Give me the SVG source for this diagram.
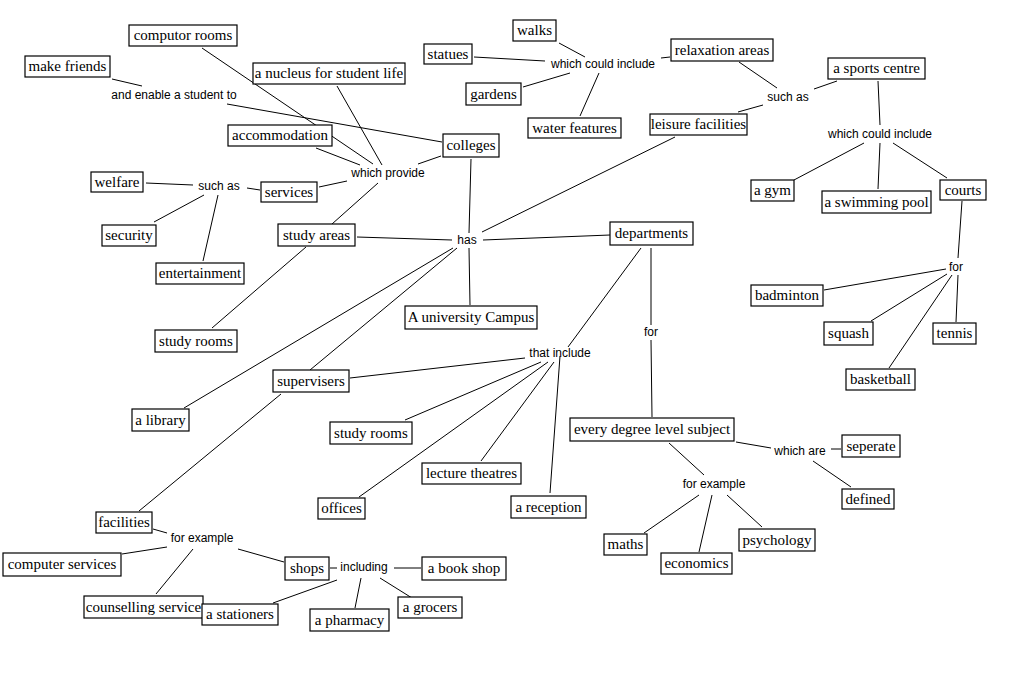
<svg xmlns="http://www.w3.org/2000/svg" width="1026" height="673" viewBox="0 0 1026 673">
<style>
.bg{fill:#fff}
.n rect{fill:#fff;stroke:#000;stroke-width:1.2}
.n text{font-family:"Liberation Serif","Times New Roman",serif;font-size:15px;fill:#000;text-anchor:middle}
.l text{font-family:"Liberation Sans",Arial,sans-serif;font-size:12px;fill:#000;text-anchor:middle}
#connectors line{stroke:#000;stroke-width:1}
</style>
<rect class="bg" x="0" y="0" width="1026" height="673"/>
<g id="connectors">
<line x1="202" y1="48" x2="373" y2="164"/>
<line x1="316" y1="148" x2="360" y2="165"/>
<line x1="337" y1="86" x2="382" y2="165"/>
<line x1="227" y1="104" x2="442" y2="142"/>
<line x1="112" y1="79" x2="142" y2="86"/>
<line x1="418" y1="164" x2="441" y2="156"/>
<line x1="319" y1="187" x2="347" y2="181"/>
<line x1="378" y1="183" x2="332" y2="224"/>
<line x1="146" y1="183" x2="193" y2="185"/>
<line x1="247" y1="188" x2="260" y2="190"/>
<line x1="204" y1="195" x2="154" y2="222"/>
<line x1="218" y1="195" x2="203" y2="261"/>
<line x1="306" y1="247" x2="212" y2="328"/>
<line x1="357" y1="237" x2="452" y2="240"/>
<line x1="483" y1="240" x2="610" y2="235"/>
<line x1="469" y1="233" x2="471" y2="159"/>
<line x1="482" y1="232" x2="675" y2="137"/>
<line x1="469" y1="248" x2="470" y2="305"/>
<line x1="453" y1="248" x2="184" y2="408"/>
<line x1="457" y1="248" x2="310" y2="370"/>
<line x1="281" y1="394" x2="139" y2="511"/>
<line x1="641" y1="248" x2="568" y2="347"/>
<line x1="525" y1="358" x2="350" y2="378"/>
<line x1="541" y1="362" x2="405" y2="420"/>
<line x1="548" y1="362" x2="359" y2="497"/>
<line x1="554" y1="362" x2="481" y2="461"/>
<line x1="560" y1="356" x2="550" y2="493"/>
<line x1="651" y1="248" x2="651" y2="325"/>
<line x1="651" y1="340" x2="652" y2="417"/>
<line x1="736" y1="442" x2="771" y2="448"/>
<line x1="831" y1="449" x2="841" y2="449"/>
<line x1="813" y1="461" x2="851" y2="487"/>
<line x1="669" y1="443" x2="704" y2="475"/>
<line x1="699" y1="495" x2="644" y2="533"/>
<line x1="712" y1="495" x2="699" y2="552"/>
<line x1="727" y1="495" x2="762" y2="527"/>
<line x1="153" y1="529" x2="167" y2="533"/>
<line x1="167" y1="547" x2="122" y2="554"/>
<line x1="193" y1="549" x2="156" y2="594"/>
<line x1="238" y1="549" x2="284" y2="562"/>
<line x1="330" y1="568" x2="337" y2="568"/>
<line x1="394" y1="568" x2="421" y2="568"/>
<line x1="380" y1="578" x2="412" y2="598"/>
<line x1="361" y1="578" x2="355" y2="608"/>
<line x1="337" y1="580" x2="273" y2="603"/>
<line x1="474" y1="57" x2="545" y2="61"/>
<line x1="559" y1="43" x2="585" y2="57"/>
<line x1="570" y1="73" x2="523" y2="87"/>
<line x1="599" y1="73" x2="580" y2="116"/>
<line x1="661" y1="58" x2="670" y2="57"/>
<line x1="739" y1="62" x2="777" y2="88"/>
<line x1="814" y1="89" x2="837" y2="81"/>
<line x1="763" y1="105" x2="738" y2="112"/>
<line x1="878" y1="81" x2="880" y2="125"/>
<line x1="864" y1="143" x2="794" y2="180"/>
<line x1="880" y1="143" x2="878" y2="189"/>
<line x1="893" y1="143" x2="947" y2="178"/>
<line x1="962" y1="201" x2="958" y2="258"/>
<line x1="946" y1="269" x2="824" y2="290"/>
<line x1="947" y1="274" x2="871" y2="321"/>
<line x1="952" y1="275" x2="889" y2="368"/>
<line x1="958" y1="275" x2="956" y2="322"/>
</g>
<g class="l">
<text id="lbl-enable" x="174" y="99">and enable a student to</text>
<text id="lbl-provide" x="388" y="177">which provide</text>
<text id="lbl-suchas1" x="219" y="190">such as</text>
<text id="lbl-has" x="467" y="244">has</text>
<text id="lbl-thatinclude" x="560" y="357">that include</text>
<text id="lbl-for1" x="651" y="336">for</text>
<text id="lbl-whichare" x="800" y="455">which are</text>
<text id="lbl-forex2" x="714" y="488">for example</text>
<text id="lbl-forex1" x="202" y="542">for example</text>
<text id="lbl-including" x="364" y="571">including</text>
<text id="lbl-wci1" x="603" y="68">which could include</text>
<text id="lbl-suchas2" x="788" y="101">such as</text>
<text id="lbl-wci2" x="880" y="138">which could include</text>
<text id="lbl-for2" x="956" y="271">for</text>
</g>
<g class="n" id="n-computor"><rect x="129" y="25" width="108" height="21"/><text x="183" y="40">computor rooms</text></g>
<g class="n" id="n-makefriends"><rect x="25" y="56" width="85" height="21"/><text x="67.5" y="71">make friends</text></g>
<g class="n" id="n-nucleus"><rect x="253" y="63" width="152" height="21"/><text x="329" y="78">a nucleus for student life</text></g>
<g class="n" id="n-accommodation"><rect x="228" y="125" width="104" height="21"/><text x="280" y="140">accommodation</text></g>
<g class="n" id="n-welfare"><rect x="91" y="172" width="52" height="20"/><text x="117" y="187">welfare</text></g>
<g class="n" id="n-services"><rect x="261" y="182" width="56" height="20"/><text x="289" y="197">services</text></g>
<g class="n" id="n-security"><rect x="102" y="225" width="54" height="21"/><text x="129" y="240">security</text></g>
<g class="n" id="n-entertainment"><rect x="156" y="263" width="88" height="21"/><text x="200" y="278">entertainment</text></g>
<g class="n" id="n-studyareas"><rect x="278" y="224" width="77" height="22"/><text x="316.5" y="240">study areas</text></g>
<g class="n" id="n-studyrooms1"><rect x="155" y="330" width="82" height="22"/><text x="196" y="346">study rooms</text></g>
<g class="n" id="n-library"><rect x="132" y="409" width="57" height="22"/><text x="160.5" y="425">a library</text></g>
<g class="n" id="n-supervisers"><rect x="273" y="370" width="76" height="22"/><text x="311" y="386">supervisers</text></g>
<g class="n" id="n-facilities"><rect x="96" y="512" width="56" height="21"/><text x="124" y="527">facilities</text></g>
<g class="n" id="n-compservices"><rect x="3" y="553" width="118" height="23"/><text x="62" y="569">computer services</text></g>
<g class="n" id="n-counselling"><rect x="84" y="596" width="119" height="22"/><text x="143.5" y="612">counselling service</text></g>
<g class="n" id="n-stationers"><rect x="202" y="604" width="76" height="21"/><text x="240" y="619">a stationers</text></g>
<g class="n" id="n-shops"><rect x="285" y="557" width="44" height="23"/><text x="307" y="573">shops</text></g>
<g class="n" id="n-bookshop"><rect x="422" y="557" width="84" height="23"/><text x="464" y="573">a book shop</text></g>
<g class="n" id="n-grocers"><rect x="398" y="597" width="64" height="21"/><text x="430" y="612">a grocers</text></g>
<g class="n" id="n-pharmacy"><rect x="310" y="609" width="79" height="22"/><text x="349.5" y="625">a pharmacy</text></g>
<g class="n" id="n-offices"><rect x="318" y="498" width="47" height="21"/><text x="341.5" y="513">offices</text></g>
<g class="n" id="n-lecture"><rect x="422" y="463" width="99" height="21"/><text x="471.5" y="478">lecture theatres</text></g>
<g class="n" id="n-reception"><rect x="511" y="496" width="75" height="22"/><text x="548.5" y="512">a reception</text></g>
<g class="n" id="n-studyrooms2"><rect x="330" y="422" width="82" height="22"/><text x="371" y="438">study rooms</text></g>
<g class="n" id="n-campus"><rect x="405" y="306" width="132" height="23"/><text x="471" y="322">A university Campus</text></g>
<g class="n" id="n-departments"><rect x="610" y="222" width="83" height="23"/><text x="651.5" y="238">departments</text></g>
<g class="n" id="n-degree"><rect x="570" y="418" width="164" height="23"/><text x="652" y="434">every degree level subject</text></g>
<g class="n" id="n-seperate"><rect x="842" y="435" width="58" height="22"/><text x="871" y="451">seperate</text></g>
<g class="n" id="n-defined"><rect x="842" y="489" width="52" height="20"/><text x="868" y="504">defined</text></g>
<g class="n" id="n-maths"><rect x="604" y="534" width="43" height="21"/><text x="625.5" y="549">maths</text></g>
<g class="n" id="n-economics"><rect x="661" y="553" width="71" height="21"/><text x="696.5" y="568">economics</text></g>
<g class="n" id="n-psychology"><rect x="739" y="529" width="76" height="22"/><text x="777" y="545">psychology</text></g>
<g class="n" id="n-colleges"><rect x="443" y="134" width="56" height="23"/><text x="471" y="150">colleges</text></g>
<g class="n" id="n-statues"><rect x="424" y="44" width="48" height="20"/><text x="448" y="59">statues</text></g>
<g class="n" id="n-walks"><rect x="513" y="20" width="43" height="21"/><text x="534.5" y="35">walks</text></g>
<g class="n" id="n-gardens"><rect x="466" y="83" width="55" height="22"/><text x="493.5" y="99">gardens</text></g>
<g class="n" id="n-water"><rect x="528" y="118" width="93" height="20"/><text x="574.5" y="133">water features</text></g>
<g class="n" id="n-relaxation"><rect x="671" y="39" width="102" height="22"/><text x="722" y="55">relaxation areas</text></g>
<g class="n" id="n-leisure"><rect x="650" y="114" width="97" height="21"/><text x="698.5" y="129">leisure facilities</text></g>
<g class="n" id="n-sports"><rect x="828" y="58" width="97" height="21"/><text x="876.5" y="73">a sports centre</text></g>
<g class="n" id="n-gym"><rect x="751" y="180" width="43" height="21"/><text x="772.5" y="195">a gym</text></g>
<g class="n" id="n-pool"><rect x="822" y="191" width="109" height="22"/><text x="876.5" y="207">a swimming pool</text></g>
<g class="n" id="n-courts"><rect x="940" y="180" width="46" height="20"/><text x="963" y="195">courts</text></g>
<g class="n" id="n-badminton"><rect x="751" y="285" width="72" height="21"/><text x="787" y="300">badminton</text></g>
<g class="n" id="n-squash"><rect x="824" y="322" width="49" height="23"/><text x="848.5" y="338">squash</text></g>
<g class="n" id="n-tennis"><rect x="933" y="323" width="43" height="21"/><text x="954.5" y="338">tennis</text></g>
<g class="n" id="n-basketball"><rect x="846" y="369" width="69" height="21"/><text x="880.5" y="384">basketball</text></g>
</svg>
